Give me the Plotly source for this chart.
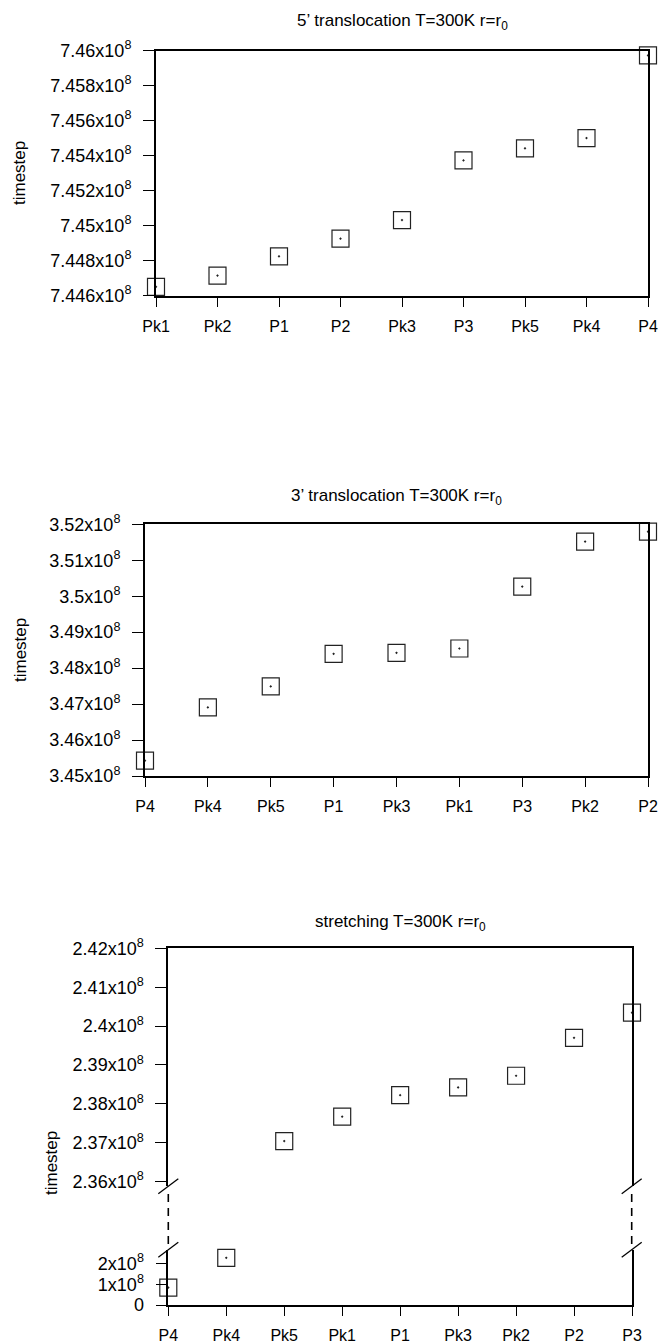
import plotly.graph_objects as go

W, H = 662, 1343

# ---- data -------------------------------------------------------------
# 5' translocation, T=300K
cat_5p = ["Pk1", "Pk2", "P1", "P2", "Pk3", "P3", "Pk5", "Pk4", "P4"]
ts_5p = [7.44651e8, 7.44715e8, 7.44825e8, 7.44926e8, 7.45032e8,
         7.45373e8, 7.45442e8, 7.45501e8, 7.45973e8]
tickvals_5p = [7.446e8, 7.448e8, 7.450e8, 7.452e8, 7.454e8, 7.456e8, 7.458e8, 7.460e8]
ticktext_5p = ["7.446x10<sup>8</sup>", "7.448x10<sup>8</sup>", "7.45x10<sup>8</sup>",
               "7.452x10<sup>8</sup>", "7.454x10<sup>8</sup>", "7.456x10<sup>8</sup>",
               "7.458x10<sup>8</sup>", "7.46x10<sup>8</sup>"]

# 3' translocation, T=300K
cat_3p = ["P4", "Pk4", "Pk5", "P1", "Pk3", "Pk1", "P3", "Pk2", "P2"]
ts_3p = [3.45426e8, 3.46907e8, 3.47491e8, 3.48398e8, 3.48426e8,
         3.48546e8, 3.50269e8, 3.51519e8, 3.51796e8]
tickvals_3p = [3.45e8, 3.46e8, 3.47e8, 3.48e8, 3.49e8, 3.50e8, 3.51e8, 3.52e8]
ticktext_3p = ["3.45x10<sup>8</sup>", "3.46x10<sup>8</sup>", "3.47x10<sup>8</sup>",
               "3.48x10<sup>8</sup>", "3.49x10<sup>8</sup>", "3.5x10<sup>8</sup>",
               "3.51x10<sup>8</sup>", "3.52x10<sup>8</sup>"]

# stretching, T=300K (broken y axis)
cat_st = ["P4", "Pk4", "Pk5", "Pk1", "P1", "Pk3", "Pk2", "P2", "P3"]
ts_st = [0.84e8, 2.27e8, 2.37043e8, 2.37672e8, 2.38224e8,
         2.38422e8, 2.38724e8, 2.39698e8, 2.40345e8]
tickvals_st_hi = [2.36e8, 2.37e8, 2.38e8, 2.39e8, 2.40e8, 2.41e8, 2.42e8]
ticktext_st_hi = ["2.36x10<sup>8</sup>", "2.37x10<sup>8</sup>", "2.38x10<sup>8</sup>",
                  "2.39x10<sup>8</sup>", "2.4x10<sup>8</sup>", "2.41x10<sup>8</sup>",
                  "2.42x10<sup>8</sup>"]
tickvals_st_lo = [0, 1e8, 2e8]
ticktext_st_lo = ["0", "1x10<sup>8</sup>", "2x10<sup>8</sup>"]
range_st_hi = [2.35889e8, 2.42e8]
range_st_lo = [0, 2.66e8]

titles = ["5’ translocation T=300K r=r<sub>0</sub>",
          "3’ translocation T=300K r=r<sub>0</sub>",
          "stretching T=300K r=r<sub>0</sub>"]

# ---- geometry helpers (pixel -> paper) --------------------------------
def dx(a, b):
    return [a / W, b / W]

def dy(top, bottom):
    return [1 - bottom / H, 1 - top / H]

def px(x):
    return x / W

def py(y):
    return 1 - y / H

FONT = "Liberation Sans, Arial, Helvetica, sans-serif"
INK = "#000000"

marker = dict(symbol="square-open-dot", size=17, color="#222222",
              line=dict(width=1.2, color="#222222"))

fig = go.Figure()

fig.add_trace(go.Scatter(x=cat_5p, y=ts_5p, mode="markers", marker=marker,
                         xaxis="x", yaxis="y", cliponaxis=False, showlegend=False))
fig.add_trace(go.Scatter(x=cat_3p, y=ts_3p, mode="markers", marker=marker,
                         xaxis="x2", yaxis="y2", cliponaxis=False, showlegend=False))

# split the stretching series between the two segments of the broken axis
break_at = range_st_hi[0]
hi_x = [c for c, v in zip(cat_st, ts_st) if v >= break_at]
hi_y = [v for v in ts_st if v >= break_at]
lo_x = [c for c, v in zip(cat_st, ts_st) if v < break_at]
lo_y = [v for v in ts_st if v < break_at]
fig.add_trace(go.Scatter(x=hi_x, y=hi_y, mode="markers", marker=marker,
                         xaxis="x4", yaxis="y3", cliponaxis=False, showlegend=False))
fig.add_trace(go.Scatter(x=lo_x, y=lo_y, mode="markers", marker=marker,
                         xaxis="x3", yaxis="y4", cliponaxis=False, showlegend=False))

xcommon = dict(type="category", range=[0, 8], showgrid=False, zeroline=False,
               automargin=False,
               showline=True, linewidth=2, linecolor=INK,
               ticks="outside", ticklen=9, tickwidth=1.2, tickcolor=INK,
               ticklabelstandoff=6,
               tickfont=dict(family=FONT, size=16, color=INK))
ycommon = dict(showgrid=False, zeroline=False, automargin=False,
               showline=True, linewidth=2,
               linecolor=INK, ticks="outside", ticklen=11, tickwidth=1.2,
               tickcolor=INK, ticklabelstandoff=8,
               tickfont=dict(family=FONT, size=18, color=INK))

fig.update_layout(
    template="none",
    width=W, height=H, autosize=False,
    margin=dict(l=0, r=0, t=0, b=0, pad=0),
    paper_bgcolor="white", plot_bgcolor="white",
    showlegend=False,
    xaxis=dict(xcommon, domain=dx(156, 648), anchor="y", mirror=True,
               categoryorder="array", categoryarray=cat_5p),
    yaxis=dict(ycommon, domain=dy(50.7, 295.7), anchor="x", mirror=True,
               range=[tickvals_5p[0], tickvals_5p[-1]],
               tickvals=tickvals_5p, ticktext=ticktext_5p),
    xaxis2=dict(xcommon, domain=dx(145, 648), anchor="y2", mirror=True,
                categoryorder="array", categoryarray=cat_3p),
    yaxis2=dict(ycommon, domain=dy(524.3, 776), anchor="x2", mirror=True,
                range=[tickvals_3p[0], tickvals_3p[-1]],
                tickvals=tickvals_3p, ticktext=ticktext_3p),
    # stretching: lower segment (with category labels)
    xaxis3=dict(xcommon, domain=dx(168.3, 632), anchor="y4", mirror=False,
                categoryorder="array", categoryarray=cat_st),
    yaxis4=dict(ycommon, domain=dy(1249.7, 1305), anchor="x3", mirror=True,
                linewidth=1.6, range=range_st_lo,
                tickvals=tickvals_st_lo, ticktext=ticktext_st_lo),
    # stretching: upper segment
    xaxis4=dict(xcommon, domain=dx(168.3, 632), anchor="y3", side="top",
                mirror=False, ticks="", showticklabels=False,
                categoryorder="array", categoryarray=cat_st),
    yaxis3=dict(ycommon, domain=dy(948.3, 1186), anchor="x4", mirror=True,
                range=range_st_hi,
                tickvals=tickvals_st_hi, ticktext=ticktext_st_hi),
)

# titles and y-axis labels
ann = []
for text, cx, cy in [(titles[0], 402, 22), (titles[1], 396.5, 497), (titles[2], 400, 923)]:
    ann.append(dict(text=text, x=px(cx), y=py(cy), xref="paper", yref="paper",
                    xanchor="center", yanchor="middle", showarrow=False,
                    font=dict(family=FONT, size=17, color=INK)))
for cx, cy in [(19, 173), (20, 650), (51, 1163)]:
    ann.append(dict(text="timestep", x=px(cx), y=py(cy), xref="paper", yref="paper",
                    xanchor="center", yanchor="middle", textangle=-90, showarrow=False,
                    font=dict(family=FONT, size=17, color=INK)))
fig.update_layout(annotations=ann)

# axis-break marks: slashes and dashed connectors on both sides
shapes = []
for x_axis in (168.3, 631.7):
    for y_c in (1186.3, 1249.7):
        shapes.append(dict(type="line", xref="paper", yref="paper",
                           x0=px(x_axis - 10), y0=py(y_c + 7.5),
                           x1=px(x_axis + 10), y1=py(y_c - 7.5),
                           line=dict(color=INK, width=1.3)))
    shapes.append(dict(type="line", xref="paper", yref="paper",
                       x0=px(x_axis), y0=py(1194), x1=px(x_axis), y1=py(1245),
                       line=dict(color=INK, width=1.6, dash="8px,6px")))
fig.update_layout(shapes=shapes)

fig.write_html("out.html")
